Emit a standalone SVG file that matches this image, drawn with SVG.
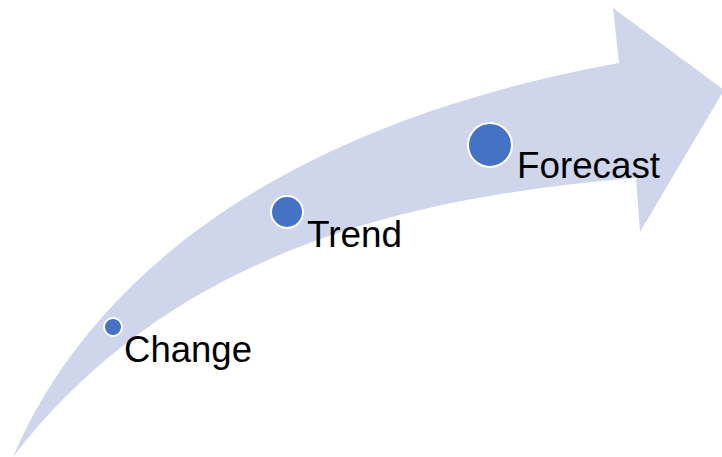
<svg xmlns="http://www.w3.org/2000/svg" width="722" height="457" viewBox="0 0 722 457">
<style>
.arrow{fill:#cfd5ea}
.dot{fill:#4472c4;stroke:#ffffff;stroke-width:2}
.lbl{font-family:"Liberation Sans",Arial,sans-serif;font-size:36px;fill:#000000}
</style>
<rect width="722" height="457" fill="#ffffff"/>
<g id="arrow">
<path class="arrow" d="M 13 457 C 80 300, 250 130, 619 63 L 613 8 L 724 90 L 640 232 L 636 178 C 386 198, 163 262, 13 457 Z"/>
</g>
<g id="connectors"></g>
<g id="node-change">
<circle class="dot" cx="113" cy="327" r="9"/>
<text class="lbl" x="124" y="362" textLength="128" lengthAdjust="spacingAndGlyphs">Change</text>
</g>
<g id="node-trend">
<circle class="dot" cx="287" cy="212" r="16"/>
<text class="lbl" x="307" y="247" textLength="95" lengthAdjust="spacingAndGlyphs">Trend</text>
</g>
<g id="node-forecast">
<circle class="dot" cx="490" cy="145" r="22"/>
<text class="lbl" x="517" y="178" textLength="143" lengthAdjust="spacingAndGlyphs">Forecast</text>
</g>
</svg>
